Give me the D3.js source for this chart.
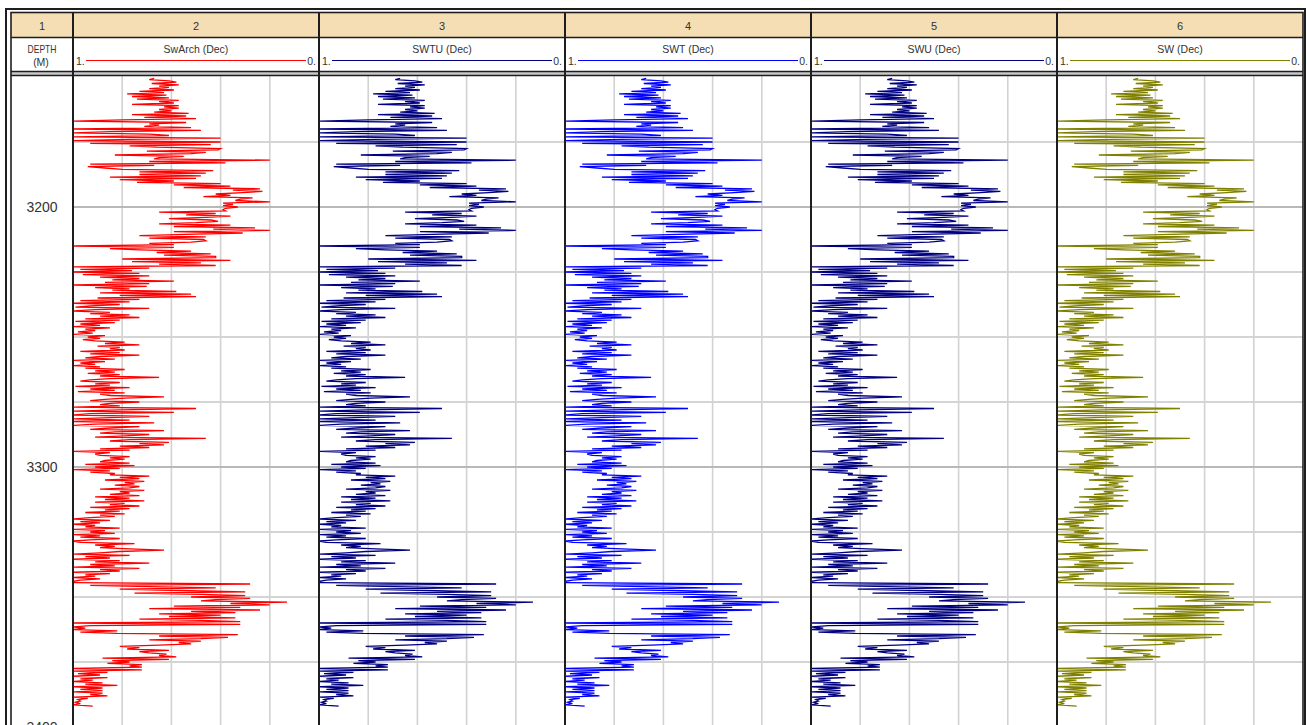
<!DOCTYPE html>
<html>
<head>
<meta charset="utf-8">
<script src="https://cdn.jsdelivr.net/npm/d3@7"></script>
<style>
  body { margin: 0; background: #fff; }
  svg { display: block; }
  text { font-family: "Liberation Sans", Arial, sans-serif; fill: #333; }
</style>
</head>
<body>
<svg id="chart" width="1307" height="725"></svg>
<script>
// ---- header content ----
const trackNumbers = ["1", "2", "3", "4", "5", "6"];
const depthTitle = ["DEPTH", "(M)"];
const curveNames = ["SwArch (Dec)", "SWTU (Dec)", "SWT (Dec)", "SWU (Dec)", "SW (Dec)"];
const curveColors = ["#ff0000", "#000080", "#0000ff", "#000080", "#808000"];
const scaleEnds = ["1.", "0."];          // left / right scale limits of every curve track
const depthLabels = [3200, 3300, 3400];

// ---- log sampling ----
const DEPTH_TOP = 3150.5;   // m, first sample
const DEPTH_STEP = 0.5;     // m, sampling interval

// Water saturation (decimal), one sample per DEPTH_STEP.
// The five saturation models give the same trace at this display resolution.
const SW = [
  0.67,0.69,0.61,0.58,0.68,0.57,0.65,0.61,0.69,0.59,
  0.73,0.63,0.78,0.62,0.76,0.61,0.74,0.57,0.65,0.59,
  0.76,0.57,0.63,0.57,0.65,0.60,0.67,0.53,0.76,0.54,
  0.71,0.50,0.80,1.00,0.54,0.69,0.65,0.71,0.52,1.00,
  0.48,0.85,1.00,0.69,0.61,1.00,0.40,0.77,
  1.00,0.40,0.93,0.44,0.77,0.66,0.40,0.41,0.70,0.46,
  0.52,0.83,0.55,0.65,0.67,0.20,0.69,0.38,0.93,0.67,
  0.94,0.87,0.80,0.43,0.73,0.46,0.73,0.48,0.85,0.50,
  0.81,0.59,0.74,0.40,0.59,0.36,0.55,0.24,0.35,0.23,
  0.31,0.42,0.36,0.47,0.27,0.32,0.34,0.20,0.39,0.35,
  0.39,0.33,0.38,0.39,0.38,0.65,0.42,0.54,0.36,0.46,
  0.61,0.44,0.41,0.50,0.65,0.36,0.59,0.26,0.43,0.20,
  0.59,0.31,0.54,0.73,0.46,0.69,0.47,0.46,0.52,0.69,
  0.59,1.00,0.59,0.85,0.73,0.52,0.66,0.44,0.63,0.42,
  0.42,0.80,0.36,0.76,0.48,0.65,0.42,1.00,0.69,0.97,
  0.76,1.00,0.73,0.96,0.69,
  0.89,0.73,0.84,0.59,0.87,0.69,1.00,0.70,0.91,0.77,0.84,0.58,0.89,0.52,0.81,0.50,0.90,0.73,
  0.97,0.77,1.00,0.81,0.93,0.99,0.69,0.91,1.00,0.85,0.93,0.77,0.89,0.73,0.95,0.81,
  0.99,0.83,0.97,0.89,1.00,0.85,0.95,0.91,0.98,0.92,1.00,0.87,0.94,0.89,0.96,
  0.91,0.79,0.87,0.73,0.90,0.81,0.85,0.79,0.97,0.81,0.93,0.73,0.89,0.95,0.83,1.00,
  0.87,0.97,0.91,1.00,0.89,0.95,0.79,0.91,0.83,0.94,0.81,0.89,0.65,0.85,0.93,
  0.97,0.81,0.91,0.85,0.99,0.77,0.93,0.83,0.98,0.79,0.89,0.85,0.63,0.79,0.87,0.93,
  0.73,0.85,0.89,0.81,1.00,0.50,0.81,1.00,0.59,0.93,1.00,0.69,0.85,1.00,0.77,
  1.00,0.67,0.91,1.00,0.73,0.85,0.93,0.63,0.83,0.89,0.69,0.79,0.91,0.46,0.77,0.85,
  0.61,0.73,0.63,0.81,0.69,0.89,0.77,1.00,0.85,0.91,0.89,0.77,0.85,0.79,0.87,
  0.89,0.77,0.95,0.75,0.91,0.81,1.00,0.85,0.93,0.83,0.85,0.69,0.81,0.73,0.87,0.71,
  0.79,0.75,0.83,0.73,0.77,0.89,0.71,0.81,0.77,0.85,0.73,0.91,0.77,0.87,0.71,
  0.91,0.79,0.85,0.73,0.93,0.77,0.87,0.81,0.95,0.79,0.89,0.83,0.93,1.00,0.85,0.97,
  0.89,1.00,0.91,0.95,0.81,1.00,0.87,0.93,0.83,1.00,0.89,0.97,0.81,0.93,1.00,
  0.97,0.75,0.91,0.83,0.89,0.77,0.63,0.81,0.89,1.00,0.77,0.95,0.85,1.00,0.81,0.91,
  0.69,0.93,0.83,1.00,0.73,0.89,0.81,1.00,0.85,0.95,0.91,1.00,0.89,0.97,1.00,
  1.00,0.28,0.93,0.69,0.42,0.81,0.57,0.30,0.75,0.48,0.30,0.52,0.28,0.42,0.48,0.13,
  0.36,0.20,0.59,0.32,0.69,0.24,0.52,0.34,0.65,0.40,0.61,0.34,0.73,0.48,0.32,1.00,0.32,
  0.93,1.00,0.95,1.00,0.82,0.97,0.82,0.33,0.65,0.37,
  0.48,0.69,0.48,0.57,0.52,0.65,0.81,0.73,0.78,0.61,
  0.73,0.69,0.62,0.65,0.58,0.88,0.61,0.84,0.77,0.86,
  0.72,0.77,0.72,1.00,0.72,1.00,0.86,0.98,0.89,1.00,
  0.86,0.97,0.92,1.00,0.88,0.95,0.82,1.00,0.88,0.97,
  0.88,1.00,0.88,0.93,0.86,1.00,0.94,0.98,0.97,0.99,
  0.97,1.00,0.92
];
const SwArch = SW, SWTU = SW, SWT = SW, SWU = SW;
const curveSeries = [SwArch, SWTU, SWT, SWU, SW];

// ---- layout ----
const W = 1307, H = 725;
const colEdges = [11, 73, 319, 565, 811, 1057, 1303];
const ROW1_TOP = 12.5, ROW1_BOT = 37.5, ROW2_BOT = 71.5, DATA_TOP = 75.5;

const svg = d3.select("#chart");
const y = d3.scaleLinear().domain([3150, 3400]).range([77, 727]);

// track header tint
svg.append("rect").attr("x", colEdges[0]).attr("y", ROW1_TOP)
  .attr("width", colEdges[6] - colEdges[0]).attr("height", ROW1_BOT - ROW1_TOP)
  .attr("fill", "#f5deb3");
// band between header and data
svg.append("rect").attr("x", colEdges[0]).attr("y", ROW2_BOT)
  .attr("width", colEdges[6] - colEdges[0]).attr("height", DATA_TOP - ROW2_BOT)
  .attr("fill", "#c9c9c9");

const defs = svg.append("defs");

// curve tracks
curveNames.forEach((name, i) => {
  const x0 = colEdges[i + 1], x1 = colEdges[i + 2];
  const x = d3.scaleLinear().domain([1, 0]).range([x0, x1]);
  const g = svg.append("g");

  // vertical grid
  const vt = [0.8, 0.6, 0.4, 0.2];
  g.selectAll("line.v").data(vt).join("line")
    .attr("x1", d => x(d)).attr("x2", d => x(d))
    .attr("y1", DATA_TOP).attr("y2", H)
    .attr("stroke", "#d2d2d2").attr("stroke-width", 1.6);

  // horizontal grid every 25 m, heavier every 100 m
  const ht = d3.range(3175, 3401, 25);
  g.selectAll("line.h").data(ht).join("line")
    .attr("x1", x0).attr("x2", x1)
    .attr("y1", d => y(d)).attr("y2", d => y(d))
    .attr("stroke", d => d % 100 === 0 ? "#b8b8b8" : "#d4d4d4")
    .attr("stroke-width", 2);

  // curve
  const cid = "clip" + i;
  defs.append("clipPath").attr("id", cid).append("rect")
    .attr("x", x0 + 1).attr("y", DATA_TOP).attr("width", x1 - x0 - 2).attr("height", H - DATA_TOP);
  const line = d3.line()
    .x(d => x(d))
    .y((d, k) => y(DEPTH_TOP + k * DEPTH_STEP));
  g.append("path").datum(curveSeries[i])
    .attr("clip-path", `url(#${cid})`)
    .attr("d", line)
    .attr("fill", "none")
    .attr("stroke", curveColors[i])
    .attr("stroke-width", 1.3)
    .attr("stroke-linejoin", "miter");

  // header: name, scale line, limits
  const cx = (x0 + x1) / 2;
  svg.append("text").attr("x", cx).attr("y", 52.5).attr("text-anchor", "middle")
    .attr("font-size", 10.5).text(name);
  svg.append("line").attr("x1", x0 + 13).attr("x2", x1 - 13)
    .attr("y1", 60.5).attr("y2", 60.5)
    .attr("stroke", curveColors[i]).attr("stroke-width", 1.2);
  svg.append("text").attr("x", x0 + 3).attr("y", 64.5).attr("font-size", 10.5).text(scaleEnds[0]);
  svg.append("text").attr("x", x1 - 3).attr("y", 64.5).attr("text-anchor", "end")
    .attr("font-size", 10.5).text(scaleEnds[1]);
});

// track numbers
trackNumbers.forEach((t, i) => {
  svg.append("text").attr("x", (colEdges[i] + colEdges[i + 1]) / 2).attr("y", 29.5)
    .attr("text-anchor", "middle").attr("font-size", 11).text(t);
});

// depth track title
svg.append("text").attr("x", 42).attr("y", 53).attr("text-anchor", "middle")
  .attr("font-size", 10.5).attr("textLength", 29).attr("lengthAdjust", "spacingAndGlyphs")
  .text(depthTitle[0]);
svg.append("text").attr("x", 41).attr("y", 65.5).attr("text-anchor", "middle")
  .attr("font-size", 10.5).text(depthTitle[1]);

// depth labels
svg.append("g").selectAll("text").data(depthLabels).join("text")
  .attr("x", 42).attr("y", d => y(d) + 5)
  .attr("text-anchor", "middle").attr("font-size", 14).attr("fill", "#444")
  .text(d => d);

// frame and separators
const frame = svg.append("g").attr("fill", "none").attr("stroke", "#1e1e1e");
frame.append("rect").attr("x", 6).attr("y", 9).attr("width", 1299).attr("height", 740).attr("stroke-width", 2);
frame.append("rect").attr("x", 11).attr("y", 12.5).attr("width", 1292).attr("height", 740).attr("stroke-width", 1.6);
[ROW1_BOT, ROW2_BOT, DATA_TOP].forEach(yy => {
  frame.append("line").attr("x1", 11).attr("x2", 1303).attr("y1", yy).attr("y2", yy).attr("stroke-width", 1.6);
});
colEdges.slice(1, 6).forEach(xx => {
  frame.append("line").attr("x1", xx).attr("x2", xx).attr("y1", ROW1_TOP).attr("y2", H).attr("stroke-width", 2);
});
</script>
</body>
</html>
